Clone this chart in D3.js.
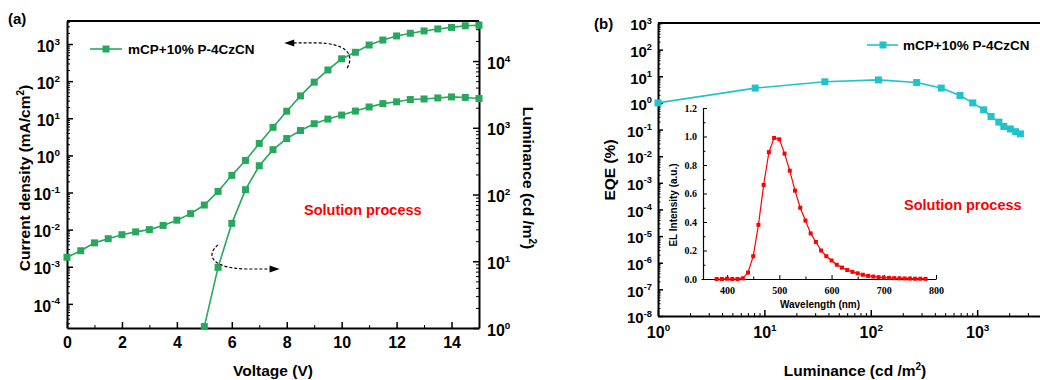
<!DOCTYPE html>
<html>
<head>
<meta charset="utf-8">
<script src="https://cdn.jsdelivr.net/npm/d3@7"></script>
<style>
  body { margin: 0; background: #fff; }
  svg { font-family: "Liberation Sans", Arial, sans-serif; font-weight: bold; }
  .ax path, .ax line { stroke: #000; }
</style>
</head>
<body>
<svg id="chart" width="1040" height="380"></svg>
<script>
// ---------------- data ----------------
var voltage = [0, 0.5, 1, 1.5, 2, 2.5, 3, 3.5, 4, 4.5, 5, 5.5, 6, 6.5, 7, 7.5, 8, 8.5, 9, 9.5, 10,
  10.5, 11, 11.5, 12, 12.5, 13, 13.5, 14, 14.5, 15];
var currentDensity = [1.8e-3, 2.7e-3, 4.4e-3, 5.7e-3, 7.3e-3, 8.7e-3, 1.0e-2, 1.3e-2, 1.8e-2, 2.7e-2,
  4.6e-2, 0.107, 0.29, 0.73, 2.1, 5.7, 15.5, 40, 94, 200, 400, 600, 940, 1280, 1650, 1950, 2250,
  2550, 2800, 3100, 3200];
var lumVoltage = [5, 5.5, 6, 6.5, 7, 7.5, 8, 8.5, 9, 9.5, 10, 10.5, 11, 11.5, 12, 12.5, 13, 13.5, 14, 14.5, 15];
var luminance = [1.05, 8.1, 37, 118, 270, 470, 690, 910, 1150, 1350, 1550, 1780, 2050, 2300, 2450,
  2650, 2700, 2800, 2900, 2850, 2750];

var eqeLum = [1.0, 8.2, 37, 118, 270, 460, 690, 910, 1150, 1350, 1600, 1780, 2050, 2300, 2550];
var eqeVal = [1.0, 3.6, 6.2, 7.3, 5.8, 3.6, 1.9, 1.0, 0.55, 0.31, 0.19, 0.13, 0.105, 0.083, 0.069];

var wavelength = [380, 390, 400, 410, 420, 430, 440, 450, 460, 470, 480, 490, 500, 510, 520, 530, 540,
  550, 560, 570, 580, 590, 600, 610, 620, 630, 640, 650, 660, 670, 680, 690, 700, 710, 720, 730, 740,
  750, 760, 770, 780];
var elIntensity = [0, 0, 0.002, 0, 0, 0.005, 0.045, 0.16, 0.38, 0.66, 0.89, 0.99, 0.98, 0.88, 0.76,
  0.62, 0.5, 0.41, 0.32, 0.26, 0.2, 0.16, 0.13, 0.1, 0.08, 0.063, 0.05, 0.04, 0.03, 0.022, 0.017,
  0.013, 0.01, 0.008, 0.006, 0.005, 0.004, 0.003, 0.002, 0.002, 0.001];

var voltTicks = [0, 2, 4, 6, 8, 10, 12, 14];
var jTicks = [-4, -3, -2, -1, 0, 1, 2, 3];
var lTicks = [0, 1, 2, 3, 4];
var eqeTicks = [-8, -7, -6, -5, -4, -3, -2, -1, 0, 1, 2, 3];
var lumTicks = [0, 1, 2, 3];
var wlTicks = [400, 500, 600, 700, 800];
var elTicks = [0, 0.2, 0.4, 0.6, 0.8, 1.0, 1.2];

var legendText = "mCP+10% P-4CzCN";
var green = "#27a85d", cyan = "#1fc3c8", red = "#ff0000";

var svg = d3.select("#chart");

// minor ticks for log axes (2..9 in every decade inside the domain)
function logMinors(scale) {
  var d = scale.domain(), out = [];
  for (var e = Math.floor(Math.log10(d[0])); e <= Math.ceil(Math.log10(d[1])); e++) {
    for (var k = 2; k < 10; k++) {
      var v = k * Math.pow(10, e);
      if (v > d[0] && v < d[1]) out.push(v);
    }
  }
  return out;
}
// "10" with superscript exponent
function powLabel(sel, fs) {
  sel.each(function(d) {
    var t = d3.select(this), e = Math.round(Math.log10(d));
    t.text(null);
    t.append("tspan").text("10");
    t.append("tspan").attr("dy", -fs * 0.45).attr("font-size", fs * 0.62).text(e);
  });
}
function pows(arr) { return arr.map(function(e) { return Math.pow(10, e); }); }

// =================================================
// panel (a)
// =================================================
var xA = d3.scaleLinear().domain([0, 15]).range([67, 479]);
var yJ = d3.scaleLog().domain([Math.pow(10, -4.65), Math.pow(10, 3.62)]).range([328, 21]);
var yL = d3.scaleLog().domain([1, Math.pow(10, 4.6)]).range([328, 21]);

var gA = svg.append("g");

// bottom
gA.append("g").attr("class", "ax").attr("transform", "translate(0,328)")
  .call(d3.axisBottom(xA).tickValues(d3.range(1, 15, 2)).tickSize(-3).tickFormat(""))
  .call(function(g) { g.select(".domain").remove(); });
gA.append("g").attr("class", "ax").attr("transform", "translate(0,328)")
  .call(d3.axisBottom(xA).tickValues(voltTicks).tickSizeInner(-6).tickSizeOuter(0).tickPadding(9))
  .call(function(g) {
    g.select(".domain").attr("stroke-width", 2);
    g.selectAll("line").attr("stroke-width", 1.5);
    g.selectAll("text").attr("font-size", 16).attr("font-weight", "bold").attr("fill", "#000")
      .attr("font-family", "Liberation Sans, Arial, sans-serif");
  });
// left
gA.append("g").attr("class", "ax").attr("transform", "translate(67,0)")
  .call(d3.axisLeft(yJ).tickValues(logMinors(yJ)).tickSize(-3).tickFormat(""))
  .call(function(g) { g.select(".domain").remove(); });
gA.append("g").attr("class", "ax").attr("transform", "translate(67,0)")
  .call(d3.axisLeft(yJ).tickValues(pows(jTicks)).tickSizeInner(-6).tickSizeOuter(0).tickPadding(7))
  .call(function(g) {
    g.select(".domain").attr("stroke-width", 2);
    g.selectAll("line").attr("stroke-width", 1.5);
    g.selectAll("text").attr("font-size", 16).attr("font-weight", "bold").attr("fill", "#000")
      .attr("font-family", "Liberation Sans, Arial, sans-serif").attr("dy", "0.45em").call(powLabel, 16);
  });
// right
gA.append("g").attr("class", "ax").attr("transform", "translate(479,0)")
  .call(d3.axisRight(yL).tickValues(logMinors(yL)).tickSize(-3).tickFormat(""))
  .call(function(g) { g.select(".domain").remove(); });
gA.append("g").attr("class", "ax").attr("transform", "translate(479,0)")
  .call(d3.axisRight(yL).tickValues(pows(lTicks)).tickSizeInner(-6).tickSizeOuter(0).tickPadding(8))
  .call(function(g) {
    g.select(".domain").attr("stroke-width", 2);
    g.selectAll("line").attr("stroke-width", 1.5);
    g.selectAll("text").attr("font-size", 16).attr("font-weight", "bold").attr("fill", "#000")
      .attr("font-family", "Liberation Sans, Arial, sans-serif").attr("dy", "0.45em").call(powLabel, 16);
  });
// top line
gA.append("line").attr("x1", 67).attr("x2", 479).attr("y1", 21).attr("y2", 21)
  .attr("stroke", "#000").attr("stroke-width", 2);

// curves
var lineJ = d3.line().x(function(d) { return xA(d[0]); }).y(function(d) { return yJ(d[1]); });
var lineL = d3.line().x(function(d) { return xA(d[0]); }).y(function(d) { return yL(d[1]); });
var jData = voltage.map(function(v, i) { return [v, currentDensity[i]]; });
var lData = lumVoltage.map(function(v, i) { return [v, luminance[i]]; });

gA.append("path").datum(jData).attr("d", lineJ).attr("fill", "none").attr("stroke", green).attr("stroke-width", 1.6);
gA.append("path").datum(lData).attr("d", lineL).attr("fill", "none").attr("stroke", green).attr("stroke-width", 1.6);
gA.selectAll(".mj").data(jData).enter().append("rect")
  .attr("x", function(d) { return xA(d[0]) - 3.5; }).attr("y", function(d) { return yJ(d[1]) - 3.5; })
  .attr("width", 7).attr("height", 7).attr("fill", green);
gA.selectAll(".ml").data(lData).enter().append("rect")
  .attr("x", function(d) { return xA(d[0]) - 3.5; }).attr("y", function(d) { return yL(d[1]) - 3.5; })
  .attr("width", 7).attr("height", 7).attr("fill", green);

// dashed arrows (annotation in data units: [V, log10 J])
function arrow(g, pts, dir) {
  var p = pts.map(function(d) { return [xA(d[0]), yJ(Math.pow(10, d[1]))]; });
  var path = d3.path();
  path.moveTo(p[0][0], p[0][1]);
  path.bezierCurveTo(p[1][0], p[1][1], p[2][0], p[2][1], p[3][0], p[3][1]);
  path.lineTo(p[4][0], p[4][1]);
  g.append("path").attr("d", path.toString()).attr("fill", "none").attr("stroke", "#000")
    .attr("stroke-width", 1.2).attr("stroke-dasharray", "3,2");
  var tip = p[4][0] + dir * 8, y = p[4][1];
  g.append("path").attr("d", "M" + tip + "," + y + "L" + (tip - dir * 10) + "," + (y - 3.5) + "L" + (tip - dir * 10) + "," + (y + 3.5) + "Z")
    .attr("fill", "#000");
}
arrow(gA, [[10.2, 2.35], [10.5, 2.75], [10.1, 3.02], [9.1, 3.03], [8.2, 3.03]], -1);
arrow(gA, [[5.5, -2.41], [5.0, -2.72], [5.35, -3.04], [6.5, -3.06], [7.45, -3.06]], 1);

// legend (a)
gA.append("line").attr("x1", 90).attr("x2", 122).attr("y1", 49).attr("y2", 49).attr("stroke", green).attr("stroke-width", 1.6);
gA.append("rect").attr("x", 102.5).attr("y", 45.5).attr("width", 7).attr("height", 7).attr("fill", green);
gA.append("text").attr("x", 128).attr("y", 54).attr("font-size", 13.5).text(legendText);

gA.append("text").attr("x", 304).attr("y", 215).attr("font-size", 14.5).attr("fill", red).text("Solution process");
gA.append("text").attr("x", 8).attr("y", 24).attr("font-size", 15).text("(a)");
gA.append("text").attr("x", 273).attr("y", 376).attr("text-anchor", "middle").attr("font-size", 15.5).text("Voltage (V)");
gA.append("text").attr("transform", "translate(30,178) rotate(-90)").attr("text-anchor", "middle").attr("font-size", 15.5)
  .call(function(t) {
    t.append("tspan").text("Current density (mA/cm");
    t.append("tspan").attr("dy", -6).attr("font-size", 10).text("2");
    t.append("tspan").attr("dy", 6).text(")");
  });
gA.append("text").attr("transform", "translate(523,178) rotate(90)").attr("text-anchor", "middle").attr("font-size", 15.5)
  .call(function(t) {
    t.append("tspan").text("Luminance (cd /m");
    t.append("tspan").attr("dy", -6).attr("font-size", 10).text("2");
    t.append("tspan").attr("dy", 6).text(")");
  });

// =================================================
// panel (b)
// =================================================
var xB = d3.scaleLog().domain([1, Math.pow(10, 3.6)]).range([658, 1041]);
var yB = d3.scaleLog().domain([1e-8, 1e3]).range([316, 23]);
var gB = svg.append("g");

gB.append("g").attr("class", "ax").attr("transform", "translate(0,316)")
  .call(d3.axisBottom(xB).tickValues(logMinors(xB)).tickSize(-3).tickFormat(""))
  .call(function(g) { g.select(".domain").remove(); });
gB.append("g").attr("class", "ax").attr("transform", "translate(0,316)")
  .call(d3.axisBottom(xB).tickValues(pows(lumTicks)).tickSizeInner(-6).tickSizeOuter(0).tickPadding(11))
  .call(function(g) {
    g.select(".domain").attr("stroke-width", 2);
    g.selectAll("line").attr("stroke-width", 1.5);
    g.selectAll("text").attr("font-size", 16).attr("font-weight", "bold").attr("fill", "#000")
      .attr("font-family", "Liberation Sans, Arial, sans-serif").call(powLabel, 16);
  });
gB.append("g").attr("class", "ax").attr("transform", "translate(658,0)")
  .call(d3.axisLeft(yB).tickValues(logMinors(yB)).tickSize(-2.5).tickFormat(""))
  .call(function(g) { g.select(".domain").remove(); });
gB.append("g").attr("class", "ax").attr("transform", "translate(658,0)")
  .call(d3.axisLeft(yB).tickValues(pows(eqeTicks)).tickSizeInner(-5).tickSizeOuter(0).tickPadding(6))
  .call(function(g) {
    g.select(".domain").attr("stroke-width", 2);
    g.selectAll("line").attr("stroke-width", 1.5);
    g.selectAll("text").attr("font-size", 15).attr("font-weight", "bold").attr("fill", "#000")
      .attr("font-family", "Liberation Sans, Arial, sans-serif").attr("dy", "0.45em").call(powLabel, 15);
  });
gB.append("line").attr("x1", 658).attr("x2", 1041).attr("y1", 23).attr("y2", 23)
  .attr("stroke", "#000").attr("stroke-width", 2);

var eqeData = eqeLum.map(function(l, i) { return [l, eqeVal[i]]; });
gB.append("path").datum(eqeData)
  .attr("d", d3.line().x(function(d) { return xB(d[0]); }).y(function(d) { return yB(d[1]); }))
  .attr("fill", "none").attr("stroke", cyan).attr("stroke-width", 1.6);
gB.selectAll(".me").data(eqeData).enter().append("rect")
  .attr("x", function(d) { return xB(d[0]) - 3.5; }).attr("y", function(d) { return yB(d[1]) - 3.5; })
  .attr("width", 7).attr("height", 7).attr("fill", cyan);

gB.append("line").attr("x1", 867).attr("x2", 898).attr("y1", 45).attr("y2", 45).attr("stroke", cyan).attr("stroke-width", 1.6);
gB.append("rect").attr("x", 879.5).attr("y", 41.5).attr("width", 7).attr("height", 7).attr("fill", cyan);
gB.append("text").attr("x", 903).attr("y", 50).attr("font-size", 13.5).text(legendText);

gB.append("text").attr("x", 904).attr("y", 210).attr("font-size", 14.5).attr("fill", red).text("Solution process");
gB.append("text").attr("x", 594).attr("y", 29).attr("font-size", 15).text("(b)");
gB.append("text").attr("x", 855).attr("y", 376).attr("text-anchor", "middle").attr("font-size", 15.5)
  .call(function(t) {
    t.append("tspan").text("Luminance (cd /m");
    t.append("tspan").attr("dy", -6).attr("font-size", 10).text("2");
    t.append("tspan").attr("dy", 6).text(")");
  });
gB.append("text").attr("transform", "translate(615,170) rotate(-90)").attr("text-anchor", "middle").attr("font-size", 15.5).text("EQE (%)");

// inset: EL spectrum
var xI = d3.scaleLinear().domain([350, 800]).range([701, 936]);
var yI = d3.scaleLinear().domain([0, 1.2]).range([279, 108]);
var gI = svg.append("g");
var serif = "Liberation Serif, Times New Roman, serif";

gI.append("g").attr("class", "ax").attr("transform", "translate(0,279)")
  .call(d3.axisBottom(xI).tickValues([450, 550, 650, 750]).tickSize(-2.5).tickFormat(""))
  .call(function(g) { g.select(".domain").remove(); g.selectAll("line").attr("stroke", "#333"); });
gI.append("g").attr("class", "ax").attr("transform", "translate(0,279)")
  .call(d3.axisBottom(xI).tickValues(wlTicks).tickSizeInner(-4).tickSizeOuter(0).tickPadding(8))
  .call(function(g) {
    g.select(".domain").attr("stroke", "#333").attr("stroke-width", 1.2);
    g.selectAll("line").attr("stroke", "#333");
    g.selectAll("text").attr("font-size", 10).attr("font-weight", "bold").attr("fill", "#000").attr("font-family", serif);
  });
gI.append("g").attr("class", "ax").attr("transform", "translate(703,0)")
  .call(d3.axisLeft(yI).tickValues(d3.range(0.1, 1.2, 0.2)).tickSize(-2.5).tickFormat(""))
  .call(function(g) { g.select(".domain").remove(); g.selectAll("line").attr("stroke", "#333"); });
gI.append("g").attr("class", "ax").attr("transform", "translate(703,0)")
  .call(d3.axisLeft(yI).tickValues(elTicks).tickSizeInner(-4).tickSizeOuter(0).tickPadding(6)
    .tickFormat(d3.format(".1f")))
  .call(function(g) {
    g.select(".domain").attr("stroke", "#333").attr("stroke-width", 1.2);
    g.selectAll("line").attr("stroke", "#333");
    g.selectAll("text").attr("font-size", 10).attr("font-weight", "bold").attr("fill", "#000").attr("font-family", serif);
  });

var elData = wavelength.map(function(w, i) { return [w, elIntensity[i]]; });
gI.append("path").datum(elData)
  .attr("d", d3.line().x(function(d) { return xI(d[0]); }).y(function(d) { return yI(d[1]); }))
  .attr("fill", "none").attr("stroke", red).attr("stroke-width", 1.2);
gI.selectAll(".mi").data(elData).enter().append("rect")
  .attr("x", function(d) { return xI(d[0]) - 2; }).attr("y", function(d) { return yI(d[1]) - 2; })
  .attr("width", 4).attr("height", 4).attr("fill", red);

gI.append("text").attr("x", 820).attr("y", 308).attr("text-anchor", "middle").attr("font-size", 10).text("Wavelength (nm)");
gI.append("text").attr("transform", "translate(677,205) rotate(-90)").attr("text-anchor", "middle")
  .attr("font-size", 10).text("EL Intensity (a.u.)");
</script>
</body>
</html>
